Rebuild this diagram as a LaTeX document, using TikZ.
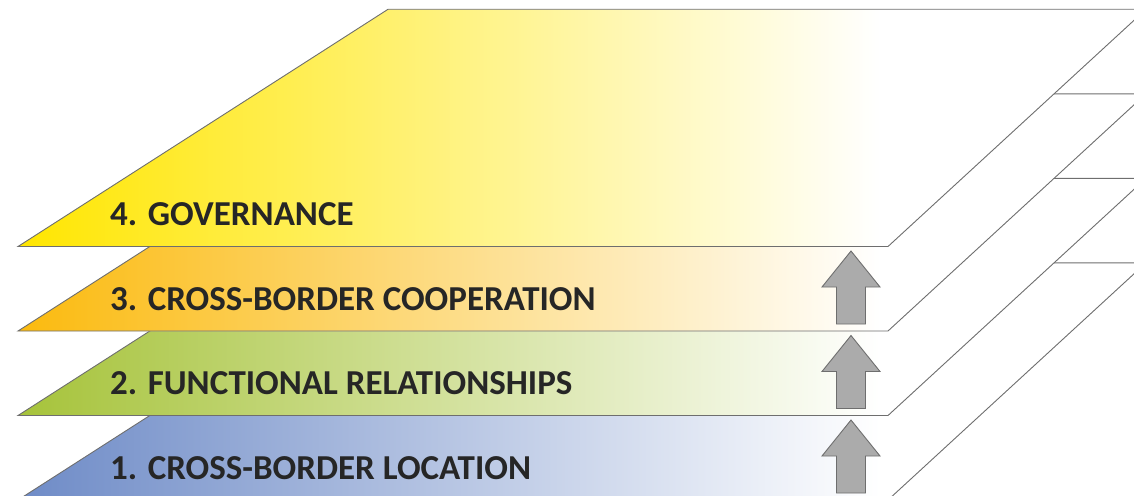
\documentclass[tikz,border=0pt]{standalone}
\usepackage{fontspec}
\setmainfont{Carlito}
\usetikzlibrary{positioning}
\definecolor{govyellow}{HTML}{FFE600}
\definecolor{coopamber}{HTML}{FBBA0E}
\definecolor{funcgreen}{HTML}{A6C33A}
\definecolor{locblue}{HTML}{6E8BC7}
\definecolor{edgegray}{HTML}{6E6E6E}
\definecolor{arrowgray}{HTML}{ABABAB}
\tikzset{
  layeredge/.style={draw=edgegray, line width=0.9pt, line join=miter},
  layertext/.style={anchor=base west, inner sep=0pt, font=\bfseries\fontsize{35}{40}\selectfont, text=black!85},
  uparrow/.style={draw=edgegray, fill=arrowgray, line width=0.9pt, line join=miter},
}

\begin{document}
\begin{tikzpicture}[x=1pt,y=-1pt]
    \useasboundingbox (0,0) rectangle (1134,495);
    \clip (0,0) rectangle (1134,495);

    % layers from bottom to top, each one shifted down by 84.5
    \foreach \k/\col/\txt in {3/locblue/1. CROSS-BORDER LOCATION,
                              2/funcgreen/2. FUNCTIONAL RELATIONSHIPS,
                              1/coopamber/3. CROSS-BORDER COOPERATION,
                              0/govyellow/4. GOVERNANCE}{
      \begin{scope}[shift={(0,84.5*\k)}]
        \coordinate (bl) at (18,246.5);
        \coordinate (tl) at (388,9.3);
        \coordinate (tr) at (1146,9.3);
        \coordinate (br) at (888,246.5);
        \fill[white] (bl)--(tl)--(tr)--(br)--cycle;
        \begin{scope}
          \clip (bl)--(tl)--(tr)--(br)--cycle;
          \shade[left color=\col, right color=white] (18,0) rectangle (880,250);
        \end{scope}
        \draw[layeredge] (bl)--(tl)--(tr)--(br)--cycle;
        \node[layertext] (label\k) at (110,225.5) {\txt};
        % arrow from the layer below up to this one
        \ifnum\k<3
          \draw[uparrow] (851,251)--(880,287)--(865.5,287)--(865.5,324)
                         --(836.5,324)--(836.5,287)--(822,287)--cycle;
        \fi
      \end{scope}
    }
\end{tikzpicture}
\end{document}
